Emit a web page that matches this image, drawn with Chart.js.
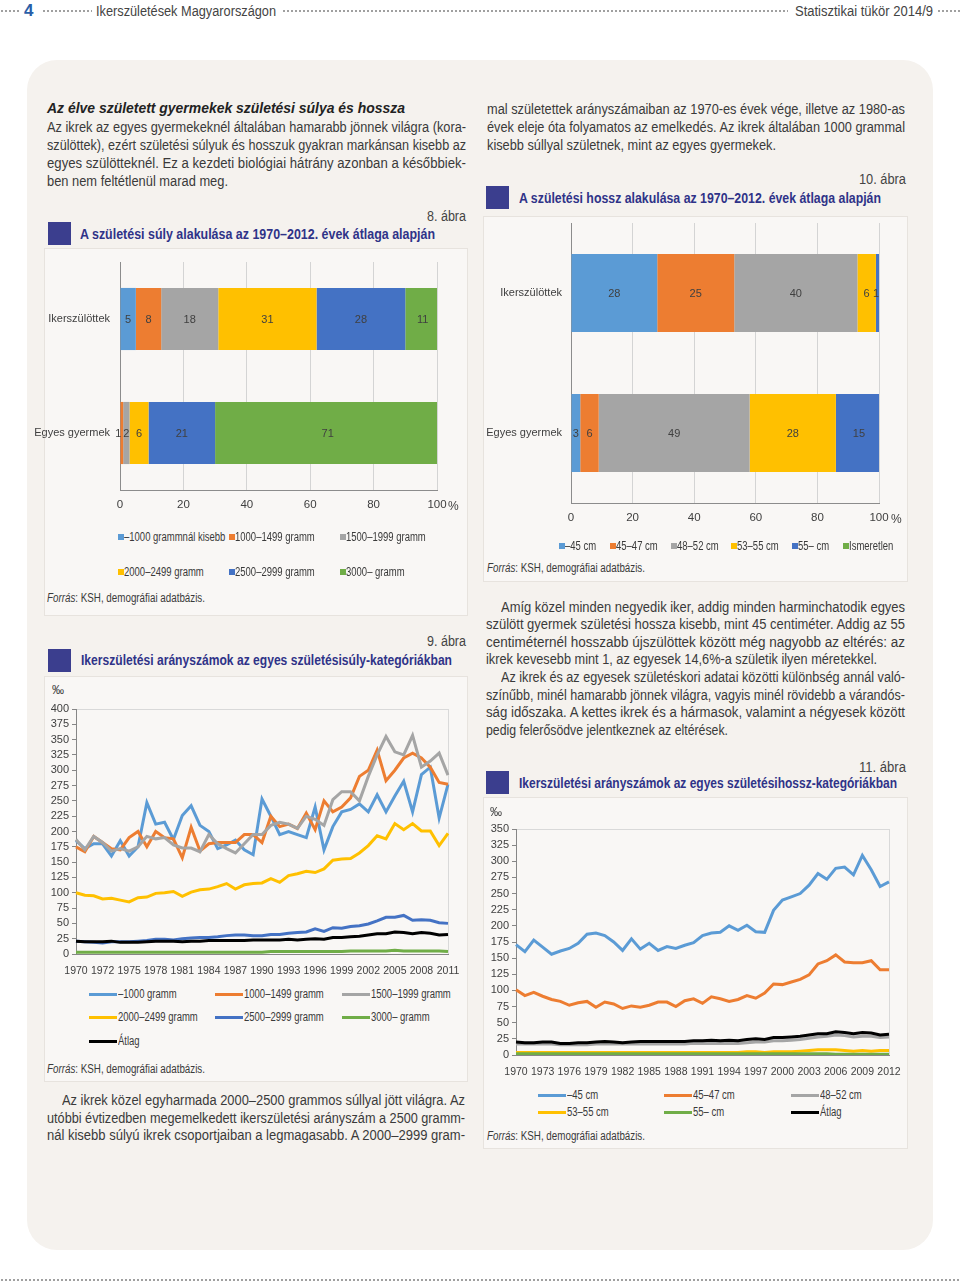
<!DOCTYPE html>
<html lang="hu">
<head>
<meta charset="utf-8">
<title>Ikerszületések Magyarországon</title>
<script src="https://cdn.jsdelivr.net/npm/chart.js@4.4.1/dist/chart.umd.min.js"></script>
<style>
  body {
    margin: 0; width: 960px; height: 1286px; position: relative; overflow: hidden;
    background: #fff; color: #3a3a3a;
    font-family: "Liberation Sans", Arial, sans-serif;
  }
  .abs { position: absolute; }
  .dots { position: absolute; height: 4px;
    background: radial-gradient(circle, #a0a0a0 1px, transparent 1.4px) 0 0 / 4px 4px repeat-x; }
  .panel { position: absolute; left: 27px; top: 60px; width: 906px; height: 1190px;
    background: #f5f2ee; border-radius: 30px; }
  .box { position: absolute; background: #f9f7f5; border: 1px solid #e7e3de; }
  .p { position: absolute; font-size: 14px; line-height: 18px; white-space: nowrap; }
  .h { position: absolute; font-size: 15px; line-height: 18px; font-weight: bold; font-style: italic; color: #222; white-space: nowrap; }
  .fig { position: absolute; font-size: 14px; line-height: 18px; color: #444; white-space: nowrap; }
  .sq { position: absolute; width: 23px; height: 23px; background: #3b3e8e; }
  .title { position: absolute; font-size: 15px; line-height: 18px; font-weight: bold; color: #2f3388; white-space: nowrap; }
  .src { position: absolute; font-size: 12.5px; line-height: 16px; color: #3a3a3a; white-space: nowrap; }
  .lg { position: absolute; font-size: 12.5px; line-height: 16px; color: #3a3a3a; white-space: nowrap;
    transform: scaleX(0.76); transform-origin: left center; }
  .unit { position: absolute; font-size: 12px; line-height: 16px; color: #404040; }
  canvas { position: absolute; }
</style>
</head>
<body>

<!-- header -->
<div class="dots" style="left:0;top:9px;width:20px"></div>
<div class="abs" style="left:24px;top:1px;font-size:17px;font-weight:bold;color:#2a5ea8">4</div>
<div class="dots" style="left:42px;top:9px;width:50px"></div>
<div class="p" data-w="180" style="left:96px;top:2px;color:#444">Ikerszületések Magyarországon</div>
<div class="dots" style="left:282px;top:9px;width:506px"></div>
<div class="p" data-w="138" style="left:795px;top:2px;color:#444">Statisztikai tükör 2014/9</div>
<div class="dots" style="left:937px;top:9px;width:23px"></div>
<div class="dots" style="left:0;top:1278px;width:960px"></div>

<div class="panel"></div>

<div class="box" style="left:44px;top:248px;width:422px;height:366px"></div>
<div class="box" style="left:44px;top:676px;width:422px;height:404px"></div>
<div class="box" style="left:483px;top:216px;width:423px;height:364px"></div>
<div class="box" style="left:483px;top:797px;width:423px;height:350px"></div>

<!-- left column text -->
<div class="h" data-w="358" style="left:47px;top:99px">Az élve született gyermekek születési súlya és hossza</div>
<div class="p" data-w="419" data-j style="left:47px;top:118px">Az ikrek az egyes gyermekeknél általában hamarabb jönnek világra (kora-</div>
<div class="p" data-w="419" data-j style="left:47px;top:136px">szülöttek), ezért születési súlyuk és hosszuk gyakran markánsan kisebb az</div>
<div class="p" data-w="419" data-j style="left:47px;top:154px">egyes szülötteknél. Ez a kezdeti biológiai hátrány azonban a későbbiek-</div>
<div class="p" data-w="181" data-j style="left:47px;top:172px">ben nem feltétlenül marad meg.</div>

<div class="fig" data-w="39" style="left:427px;top:207px">8. ábra</div>
<div class="sq" style="left:48px;top:222px"></div>
<div class="title" data-w="355" style="left:80px;top:225px">A születési súly alakulása az 1970–2012. évek átlaga alapján</div>

<div class="src" data-w="158" style="left:47px;top:590px"><i>Forrás</i>: KSH, demográfiai adatbázis.</div>

<div class="fig" data-w="39" style="left:427px;top:632px">9. ábra</div>
<div class="sq" style="left:48px;top:649px"></div>
<div class="title" data-w="371" style="left:81px;top:651px">Ikerszületési arányszámok az egyes születésisúly-kategóriákban</div>

<div class="src" data-w="158" style="left:47px;top:1061px"><i>Forrás</i>: KSH, demográfiai adatbázis.</div>

<div class="p" data-w="403" data-j style="left:62px;top:1091px">Az ikrek közel egyharmada 2000–2500 grammos súllyal jött világra. Az</div>
<div class="p" data-w="418" data-j style="left:47px;top:1109px">utóbbi évtizedben megemelkedett ikerszületési arányszám a 2500 gramm-</div>
<div class="p" data-w="418" data-j style="left:47px;top:1126px">nál kisebb súlyú ikrek csoportjaiban a legmagasabb. A 2000–2999 gram-</div>

<!-- right column text -->
<div class="p" data-w="418" data-j style="left:487px;top:100px">mal születettek arányszámaiban az 1970-es évek vége, illetve az 1980-as</div>
<div class="p" data-w="418" data-j style="left:487px;top:118px">évek eleje óta folyamatos az emelkedés. Az ikrek általában 1000 grammal</div>
<div class="p" data-w="289" data-j style="left:487px;top:136px">kisebb súllyal születnek, mint az egyes gyermekek.</div>

<div class="fig" data-w="47" style="left:859px;top:170px">10. ábra</div>
<div class="sq" style="left:486px;top:186px"></div>
<div class="title" data-w="362" style="left:519px;top:189px">A születési hossz alakulása az 1970–2012. évek átlaga alapján</div>

<div class="src" data-w="158" style="left:487px;top:560px"><i>Forrás</i>: KSH, demográfiai adatbázis.</div>

<div class="p" data-w="404" data-j style="left:501px;top:598px">Amíg közel minden negyedik iker, addig minden harminchatodik egyes</div>
<div class="p" data-w="419" data-j style="left:486px;top:615px">szülött gyermek születési hossza kisebb, mint 45 centiméter. Addig az 55</div>
<div class="p" data-w="419" data-j style="left:486px;top:633px">centiméternél hosszabb újszülöttek között még nagyobb az eltérés: az</div>
<div class="p" data-w="391" data-j style="left:486px;top:650px">ikrek kevesebb mint 1, az egyesek 14,6%-a születik ilyen méretekkel.</div>
<div class="p" data-w="404" data-j style="left:501px;top:668px">Az ikrek és az egyesek születéskori adatai közötti különbség annál való-</div>
<div class="p" data-w="419" data-j style="left:486px;top:686px">színűbb, minél hamarabb jönnek világra, vagyis minél rövidebb a várandós-</div>
<div class="p" data-w="419" data-j style="left:486px;top:703px">ság időszaka. A kettes ikrek és a hármasok, valamint a négyesek között</div>
<div class="p" data-w="242" data-j style="left:486px;top:721px">pedig felerősödve jelentkeznek az eltérések.</div>

<div class="fig" data-w="47" style="left:859px;top:758px">11. ábra</div>
<div class="sq" style="left:486px;top:771px"></div>
<div class="title" data-w="378" style="left:519px;top:774px">Ikerszületési arányszámok az egyes születésihossz-kategóriákban</div>

<div class="src" data-w="158" style="left:487px;top:1128px"><i>Forrás</i>: KSH, demográfiai adatbázis.</div>

<!-- charts -->
<canvas id="weightChart" width="430" height="265" style="left:30px;top:255px"></canvas>
<div class="unit" style="left:448px;top:498px">%</div>
<canvas id="lengthChart" width="420" height="315" style="left:483px;top:218px"></canvas>
<div class="unit" style="left:891px;top:511px">%</div>
<canvas id="weightRateChart" width="420" height="285" style="left:45px;top:700px"></canvas>
<div class="unit" style="left:52px;top:682px">‰</div>
<canvas id="lengthRateChart" width="420" height="272" style="left:483px;top:815px"></canvas>
<div class="unit" style="left:490px;top:804px">‰</div>

<script>
// --- data ---
const barCats = ['Ikerszülöttek', 'Egyes gyermek'];
const pctTicks = [0, 20, 40, 60, 80, 100];

const weightSeries = ['–1000 grammnál kisebb', '1000–1499 gramm', '1500–1999 gramm', '2000–2499 gramm', '2500–2999 gramm', '3000– gramm'];
const weightTwins = [5, 8, 18, 31, 28, 11];
const weightSingles = [0, 1, 2, 6, 21, 71];

const lengthSeries = ['–45 cm', '45–47 cm', '48–52 cm', '53–55 cm', '55– cm', 'Ismeretlen'];
const lengthTwins = [28, 25, 40, 6, 1, 0];
const lengthSingles = [3, 6, 49, 28, 15, 0];

const years = ['1970', '1971', '1972', '1973', '1974', '1975', '1976', '1977', '1978', '1979',
  '1980', '1981', '1982', '1983', '1984', '1985', '1986', '1987', '1988', '1989',
  '1990', '1991', '1992', '1993', '1994', '1995', '1996', '1997', '1998', '1999',
  '2000', '2001', '2002', '2003', '2004', '2005', '2006', '2007', '2008', '2009',
  '2010', '2011', '2012'];
const weightRateTicks = ['1970', '1972', '1975', '1978', '1981', '1984', '1987', '1990', '1993', '1996', '1999', '2002', '2005', '2008', '2011'];
const lengthRateTicks = ['1970', '1973', '1976', '1979', '1982', '1985', '1988', '1991', '1994', '1997', '2000', '2003', '2006', '2009', '2012'];

// 9. ábra, ‰
const weightRateNames = ['–1000 gramm', '1000–1499 gramm', '1500–1999 gramm', '2000–2499 gramm', '2500–2999 gramm', '3000– gramm', 'Átlag'];
const rateUnder1000 = [185, 172, 180, 180, 160, 185, 160, 175, 247, 212, 215, 187, 226, 242, 210, 200, 172, 178, 186, 170, 162, 253, 225, 195, 200, 195, 190, 240, 170, 208, 232, 236, 245, 232, 260, 232, 258, 282, 232, 293, 305, 222, 277];
const rate1000 = [175, 167, 192, 182, 172, 170, 190, 200, 175, 200, 190, 188, 157, 207, 168, 180, 182, 182, 182, 195, 195, 182, 225, 208, 212, 205, 230, 203, 250, 232, 240, 255, 290, 300, 333, 283, 300, 320, 328, 320, 305, 280, 277];
const rate1500 = [187, 170, 192, 182, 168, 172, 168, 175, 192, 188, 190, 178, 173, 173, 167, 195, 180, 172, 165, 180, 195, 195, 210, 215, 212, 205, 225, 220, 210, 252, 265, 265, 250, 290, 325, 355, 330, 325, 357, 305, 315, 328, 292];
const rate2000 = [100, 96, 95, 90, 91, 88, 85, 92, 93, 99, 100, 102, 94, 101, 105, 106, 110, 115, 106, 113, 115, 116, 123, 117, 128, 131, 135, 133, 139, 153, 155, 156, 165, 177, 193, 188, 213, 203, 213, 201, 201, 177, 197];
const rate2500 = [21, 20, 19, 18, 20, 20, 20, 21, 22, 24, 24, 23, 25, 26, 27, 27, 28, 30, 31, 31, 30, 30, 32, 32, 34, 35, 36, 41, 37, 43, 42, 45, 46, 49, 54, 60, 60, 63, 55, 56, 55, 51, 50];
const rate3000 = [3, 3, 3, 3, 3, 3, 3, 3, 3, 3, 3, 3, 3, 3, 3, 3, 3, 3, 3, 3, 3, 3, 4, 4, 4, 4, 4, 4, 4, 4, 4, 5, 5, 5, 5, 5, 6, 5, 5, 5, 5, 5, 4];
const rateAvgW = [21, 20, 20, 20, 21, 19, 19, 19, 20, 21, 21, 21, 20, 21, 21, 22, 22, 22, 22, 22, 23, 23, 23, 23, 24, 23, 24, 25, 24, 27, 27, 28, 29, 31, 33, 33, 36, 35, 33, 35, 34, 31, 32];

// 11. ábra, ‰
const lengthRateNames = ['–45 cm', '45–47 cm', '48–52 cm', '53–55 cm', '55– cm', 'Átlag'];
const rateUnder45 = [171, 160, 178, 167, 156, 161, 165, 173, 187, 189, 185, 175, 162, 180, 164, 173, 162, 168, 165, 170, 174, 185, 189, 190, 200, 193, 201, 191, 190, 224, 240, 245, 250, 263, 281, 272, 289, 291, 279, 309, 287, 261, 268];
const rate45 = [101, 92, 97, 91, 86, 83, 77, 81, 83, 74, 82, 79, 72, 76, 74, 77, 82, 82, 75, 84, 87, 80, 90, 87, 83, 86, 92, 88, 96, 110, 109, 113, 117, 124, 141, 146, 155, 144, 143, 143, 146, 132, 132];
const rate48 = [17, 17, 17, 17, 17, 16, 16, 16, 16, 17, 17, 17, 17, 17, 17, 17, 17, 17, 17, 17, 18, 18, 18, 18, 18, 18, 19, 20, 20, 22, 22, 23, 24, 26, 28, 29, 31, 30, 28, 29, 29, 27, 28];
const rate53 = [4, 4, 4, 4, 4, 4, 4, 4, 4, 4, 4, 4, 4, 4, 4, 4, 4, 4, 4, 4, 4, 4, 4, 4, 4, 4, 5, 5, 4, 5, 5, 5, 6, 7, 8, 8, 8, 7, 6, 7, 6, 7, 7];
const rate55 = [2, 2, 2, 2, 2, 2, 2, 2, 2, 2, 2, 2, 2, 2, 2, 2, 2, 2, 2, 2, 2, 2, 2, 2, 2, 2, 2, 2, 2, 2, 2, 2, 2, 2, 2, 2, 1, 1, 1, 1, 1, 1, 1];
const rateAvgL = [20, 19, 19, 20, 20, 18, 18, 19, 19, 20, 21, 20, 19, 20, 21, 21, 21, 21, 21, 21, 22, 22, 23, 22, 23, 22, 24, 25, 24, 27, 27, 28, 29, 31, 33, 33, 36, 35, 33, 35, 34, 31, 32];

// --- styles ---
const FONT = '"Liberation Sans", Arial, sans-serif';
const officeColors = ['#5b9bd5', '#ed7d31', '#a5a5a5', '#ffc000', '#4472c4', '#70ad47'];
const weightRateColors = ['#5b9bd5', '#ed7d31', '#a5a5a5', '#ffc000', '#4472c4', '#70ad47', '#000000'];
const lengthRateColors = ['#5b9bd5', '#ed7d31', '#a5a5a5', '#ffc000', '#70ad47', '#000000'];

// squeeze / justify single text lines to the widths measured on the page
function fitLines() {
  document.querySelectorAll('[data-w]').forEach(el => {
    const target = parseFloat(el.dataset.w);
    const w = el.getBoundingClientRect().width;
    if (el.dataset.j !== undefined && w < target) {
      const gaps = (el.textContent.match(/ /g) || []).length;
      el.style.wordSpacing = ((target - w) / Math.max(gaps, 1)) + 'px';
      return;
    }
    el.style.transformOrigin = 'left center';
    el.style.transform = 'scaleX(' + (target / w) + ')';
  });
}

// value labels in the middle of each bar segment, nudged left when they collide
const barLabels = {
  id: 'barLabels',
  afterDatasetsDraw(chart) {
    const ctx = chart.ctx;
    ctx.save();
    ctx.font = '11px ' + FONT;
    ctx.fillStyle = '#404040';
    ctx.textAlign = 'center';
    ctx.textBaseline = 'middle';
    chart.data.labels.forEach((_, j) => {
      const items = [];
      chart.data.datasets.forEach((ds, i) => {
        const v = ds.data[j];
        if (!v) return;
        const bar = chart.getDatasetMeta(i).data[j];
        const text = String(v);
        items.push({
          text, w: ctx.measureText(text).width, y: bar.y,
          x: Math.min((bar.x + bar.base) / 2, chart.chartArea.right - 3)
        });
      });
      for (let k = items.length - 2; k >= 0; k--) {
        const maxX = items[k + 1].x - items[k + 1].w / 2 - 2 - items[k].w / 2;
        if (items[k].x > maxX) items[k].x = maxX;
      }
      items.forEach(it => ctx.fillText(it.text, it.x, it.y + 1));
    });
    ctx.restore();
  }
};

// light frame around the plot area
const plotFrame = {
  id: 'plotFrame',
  beforeDraw(chart, args, opts) {
    if (!opts.color) return;
    const { ctx, chartArea: a } = chart;
    ctx.save();
    ctx.strokeStyle = opts.color;
    ctx.lineWidth = 1;
    ctx.strokeRect(a.left + 0.5, a.top + 0.5, a.right - a.left, a.bottom - a.top);
    ctx.restore();
  }
};

function stackedBar(id, names, twins, singles, o) {
  return new Chart(document.getElementById(id), {
    type: 'bar',
    data: {
      labels: barCats,
      datasets: names.map((name, i) => ({
        label: name,
        data: [twins[i], singles[i]],
        backgroundColor: officeColors[i],
        barPercentage: o.bar,
        categoryPercentage: 1
      }))
    },
    options: {
      indexAxis: 'y',
      layout: { padding: { top: o.top, right: o.right, left: 0, bottom: 0 } },
      scales: {
        x: {
          stacked: true, min: 0, max: 100,
          afterBuildTicks: s => { s.ticks = pctTicks.map(v => ({ value: v })); },
          grid: { color: '#d4d4d4', drawTicks: false },
          border: { color: '#8c8c8c' },
          ticks: { padding: 8, font: { size: 11.5 } },
          afterFit: s => { s.height = 30; s.paddingLeft = 0; s.paddingRight = 0; }
        },
        y: {
          stacked: true,
          grid: { display: false, drawTicks: false },
          border: { color: '#8c8c8c' },
          ticks: { padding: o.labelPad, font: { size: 11 } },
          afterFit: s => { s.width = o.yWidth; s.paddingTop = 0; s.paddingBottom = 0; }
        }
      }
    },
    plugins: [barLabels]
  });
}

function rateLines(id, names, series, colors, tickLabels, o) {
  return new Chart(document.getElementById(id), {
    type: 'line',
    data: {
      labels: years,
      datasets: names.map((name, i) => ({
        label: name,
        data: series[i],
        borderColor: colors[i],
        backgroundColor: colors[i],
        borderWidth: 3,
        pointRadius: 0,
        tension: 0,
        order: names.length - i
      }))
    },
    options: {
      layout: { padding: { top: o.top, right: o.right, left: 0, bottom: 0 } },
      plugins: { plotFrame: { color: '#d9d9d9' } },
      scales: {
        x: {
          offset: false,
          grid: { display: false },
          border: { color: '#868686' },
          ticks: {
            autoSkip: false, maxRotation: 0, minRotation: 0, padding: 3,
            font: { size: 10.5 },
            callback: (v, i) => (i % 3 === 0 ? tickLabels[i / 3] : '')
          },
          afterFit: s => { s.height = o.xHeight; s.paddingLeft = 0; s.paddingRight = 0; }
        },
        y: {
          min: 0, max: o.max,
          ticks: { stepSize: 25, autoSkip: false, padding: 3, font: { size: 11 } },
          grid: { drawOnChartArea: false, tickLength: 4, color: '#868686' },
          border: { color: '#868686' },
          afterFit: s => { s.width = o.yWidth; s.paddingTop = 0; s.paddingBottom = 0; }
        }
      }
    },
    plugins: [plotFrame]
  });
}

function addLegend(names, colors, spots, kind) {
  names.forEach((name, i) => {
    const [x, y] = spots[i];
    const mark = document.createElement('div');
    mark.className = 'abs';
    mark.style.background = colors[i];
    if (kind === 'box') {
      mark.style.cssText += `left:${x}px;top:${y - 3}px;width:6px;height:6px;`;
    } else {
      mark.style.cssText += `left:${x}px;top:${y - 1}px;width:28px;height:3px;`;
    }
    document.body.appendChild(mark);
    const t = document.createElement('div');
    t.className = 'lg';
    t.textContent = name;
    t.style.left = (x + (kind === 'box' ? 6 : 29)) + 'px';
    t.style.top = (y - 8) + 'px';
    document.body.appendChild(t);
  });
}

window.addEventListener('load', () => {
  fitLines();

  Chart.defaults.font.family = FONT;
  Chart.defaults.font.size = 11;
  Chart.defaults.color = '#404040';
  Chart.defaults.animation = false;
  Chart.defaults.responsive = false;
  Chart.defaults.plugins.legend.display = false;
  Chart.defaults.plugins.tooltip.enabled = false;

  // 8. ábra
  stackedBar('weightChart', weightSeries, weightTwins, weightSingles,
    { bar: 0.545, top: 7, right: 23, yWidth: 90, labelPad: 10 });
  addLegend(weightSeries, officeColors,
    [[118, 537], [229, 537], [340, 537], [118, 572], [229, 572], [340, 572]], 'box');

  // 10. ábra
  stackedBar('lengthChart', lengthSeries, lengthTwins, lengthSingles,
    { bar: 0.557, top: 5, right: 24, yWidth: 88, labelPad: 9 });
  addLegend(lengthSeries, officeColors,
    [[559, 546], [610, 546], [671, 546], [731, 546], [792, 546], [843, 546]], 'box');

  // 9. ábra
  rateLines('weightRateChart', weightRateNames,
    [rateUnder1000, rate1000, rate1500, rate2000, rate2500, rate3000, rateAvgW],
    weightRateColors, weightRateTicks,
    { top: 9, right: 17, yWidth: 31, xHeight: 31, max: 400 });
  addLegend(weightRateNames, weightRateColors,
    [[89, 994], [215, 994], [342, 994], [89, 1017], [215, 1017], [342, 1017], [89, 1041]], 'line');

  // 11. ábra
  rateLines('lengthRateChart', lengthRateNames,
    [rateUnder45, rate45, rate48, rate53, rate55, rateAvgL],
    lengthRateColors, lengthRateTicks,
    { top: 14, right: 14, yWidth: 33, xHeight: 32, max: 350 });
  addLegend(lengthRateNames, lengthRateColors,
    [[538, 1095], [664, 1095], [791, 1095], [538, 1112], [664, 1112], [791, 1112]], 'line');
});
</script>
</body>
</html>
